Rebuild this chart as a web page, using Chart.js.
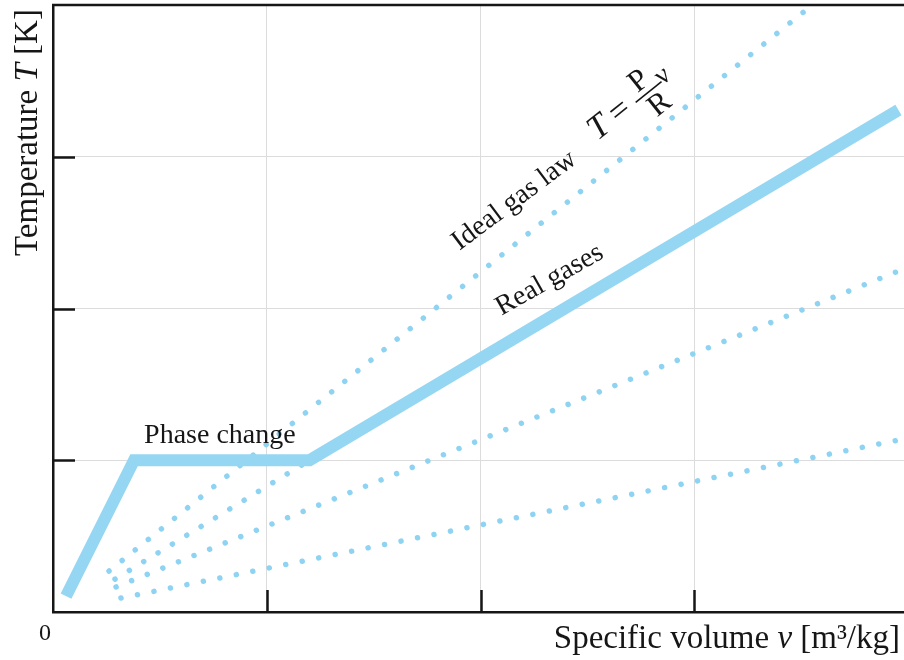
<!DOCTYPE html>
<html>
<head>
<meta charset="utf-8">
<script src="https://cdn.jsdelivr.net/npm/chart.js@4.4.1/dist/chart.umd.min.js"></script>
<style>
  html, body { margin: 0; padding: 0; background: #fff; }
  canvas { display: block; }
</style>
</head>
<body>
<canvas id="chart-tv" width="904" height="660"></canvas>
<script>
// axis ranges (arbitrary units, no tick labels except the origin)
const X_MAX = 3.98;
const Y_MAX = 4;
const xTicks = [1, 2, 3];
const yTicks = [1, 2, 3];

// real gas curve (thick line)
const realGasV = [0.061, 0.379, 1.2, 3.954];
const realGasT = [0.105, 1.0, 1.0, 3.308];

// dotted isobars
const idealV = [0.262, 3.551];
const idealT = [0.270, 4.0];
const isoBV = [0.290, 1.2];
const isoBT = [0.217, 1.0];
const isoCV = [0.295, 3.954];
const isoCT = [0.165, 2.247];
const isoDV = [0.318, 3.954];
const isoDT = [0.092, 1.133];

const BLUE = '#95d6f2';
const INK = '#161616';
const SERIF = '"Liberation Serif", "Times New Roman", serif';

function pts(xs, ys) {
  return xs.map((x, i) => ({ x: x, y: ys[i] }));
}

function dotted(xs, ys) {
  return {
    data: pts(xs, ys),
    borderColor: '#8fd3f2',
    borderWidth: 5.5,
    borderDash: [0.01, 16.8],
    borderCapStyle: 'round',
    pointRadius: 0,
    tension: 0,
    order: 2
  };
}

// extra drawing: top frame line, inward ticks, texts
const decorations = {
  id: 'decorations',
  afterDraw(chart) {
    const ctx = chart.ctx;
    const area = chart.chartArea;
    const sx = chart.scales.x;
    const sy = chart.scales.y;
    ctx.save();

    // top frame
    ctx.strokeStyle = INK;
    ctx.lineWidth = 2.5;
    ctx.beginPath();
    ctx.moveTo(area.left - 1, area.top);
    ctx.lineTo(area.right, area.top);
    ctx.stroke();

    // inward ticks
    xTicks.forEach(v => {
      const px = Math.round(sx.getPixelForValue(v)) + 0.5;
      ctx.beginPath();
      ctx.moveTo(px, area.bottom);
      ctx.lineTo(px, area.bottom - 22);
      ctx.stroke();
    });
    yTicks.forEach(v => {
      const py = Math.round(sy.getPixelForValue(v)) + 0.5;
      ctx.beginPath();
      ctx.moveTo(area.left, py);
      ctx.lineTo(area.left + 22, py);
      ctx.stroke();
    });

    ctx.fillStyle = INK;
    ctx.textBaseline = 'alphabetic';

    // origin label
    ctx.font = '24px ' + SERIF;
    ctx.textAlign = 'center';
    ctx.fillText('0', area.left - 8, area.bottom + 28);

    // x axis title
    ctx.textAlign = 'left';
    const normal = '33px ' + SERIF;
    const italic = 'italic 33px ' + SERIF;
    ctx.font = normal;
    const a = 'Specific volume ', c = ' [m³/kg]';
    const wa = ctx.measureText(a).width;
    const wc = ctx.measureText(c).width;
    ctx.font = italic;
    const wb = ctx.measureText('ν').width;
    let x0 = area.right - 4 - (wa + wb + wc);
    const yb = area.bottom + 36;
    ctx.font = normal; ctx.fillText(a, x0, yb); x0 += wa;
    ctx.font = italic; ctx.fillText('ν', x0, yb); x0 += wb;
    ctx.font = normal; ctx.fillText(c, x0, yb);

    // y axis title
    ctx.save();
    ctx.translate(37, 256);
    ctx.rotate(-Math.PI / 2);
    let u = 0;
    ctx.font = normal; ctx.fillText('Temperature ', u, 0); u += ctx.measureText('Temperature ').width;
    ctx.font = italic; ctx.fillText('T', u, 0); u += ctx.measureText('T').width;
    ctx.font = normal; ctx.fillText(' [K]', u, 0);
    ctx.restore();

    // annotations
    const lbl = (text, v, t, deg, align) => {
      ctx.save();
      ctx.translate(sx.getPixelForValue(v), sy.getPixelForValue(t));
      ctx.rotate(deg * Math.PI / 180);
      ctx.font = '28px ' + SERIF;
      ctx.textAlign = align;
      ctx.fillText(text, 0, 0);
      ctx.restore();
    };
    lbl('Phase change', 0.426, 1.114, 0, 'left');
    lbl('Ideal gas law', 2.178, 2.672, -36.8, 'center');
    lbl('Real gases', 2.34, 2.145, -29.5, 'center');

    // formula T = P/R v
    ctx.save();
    ctx.translate(sx.getPixelForValue(2.52), sy.getPixelForValue(3.082));
    ctx.rotate(-38.5 * Math.PI / 180);
    ctx.textAlign = 'center';
    ctx.font = 'italic 34px ' + SERIF;
    ctx.fillText('T', 16, 1);
    ctx.font = '34px ' + SERIF;
    ctx.fillText('=', 42.5, 1);
    ctx.font = '31px ' + SERIF;
    ctx.fillText('P', 76, -11.5);
    ctx.fillText('R', 78, 19.5);
    ctx.font = '28px ' + SERIF;
    ctx.fillText('ν', 98, -2);
    ctx.lineWidth = 1.6;
    ctx.beginPath();
    ctx.moveTo(60.5, -5.6);
    ctx.lineTo(93.5, -5.6);
    ctx.stroke();
    ctx.restore();

    ctx.restore();
  }
};

const gridColor = (c) => (xTicks.includes(c.tick.value) ? '#dcdcdc' : 'rgba(0,0,0,0)');
const gridColorY = (c) => (yTicks.includes(c.tick.value) ? '#dcdcdc' : 'rgba(0,0,0,0)');

new Chart(document.getElementById('chart-tv').getContext('2d'), {
  type: 'line',
  data: {
    datasets: [
      {
        data: pts(realGasV, realGasT),
        borderColor: BLUE,
        borderWidth: 12,
        borderJoinStyle: 'miter',
        borderCapStyle: 'butt',
        pointRadius: 0,
        tension: 0,
        order: 0
      },
      dotted(idealV, idealT),
      dotted(isoBV, isoBT),
      dotted(isoCV, isoCT),
      dotted(isoDV, isoDT)
    ]
  },
  options: {
    responsive: false,
    animation: false,
    devicePixelRatio: 1,
    layout: { padding: { left: 53, top: 5, right: 0, bottom: 48 } },
    plugins: {
      legend: { display: false },
      tooltip: { enabled: false }
    },
    scales: {
      x: {
        type: 'linear',
        min: 0,
        max: X_MAX,
        ticks: { display: false, stepSize: 1 },
        grid: { color: gridColor, drawTicks: false, lineWidth: 1 },
        border: { display: true, color: INK, width: 2.5 }
      },
      y: {
        type: 'linear',
        min: 0,
        max: Y_MAX,
        ticks: { display: false, stepSize: 1 },
        grid: { color: gridColorY, drawTicks: false, lineWidth: 1 },
        border: { display: true, color: INK, width: 2.5 }
      }
    }
  },
  plugins: [decorations]
});
</script>
</body>
</html>
